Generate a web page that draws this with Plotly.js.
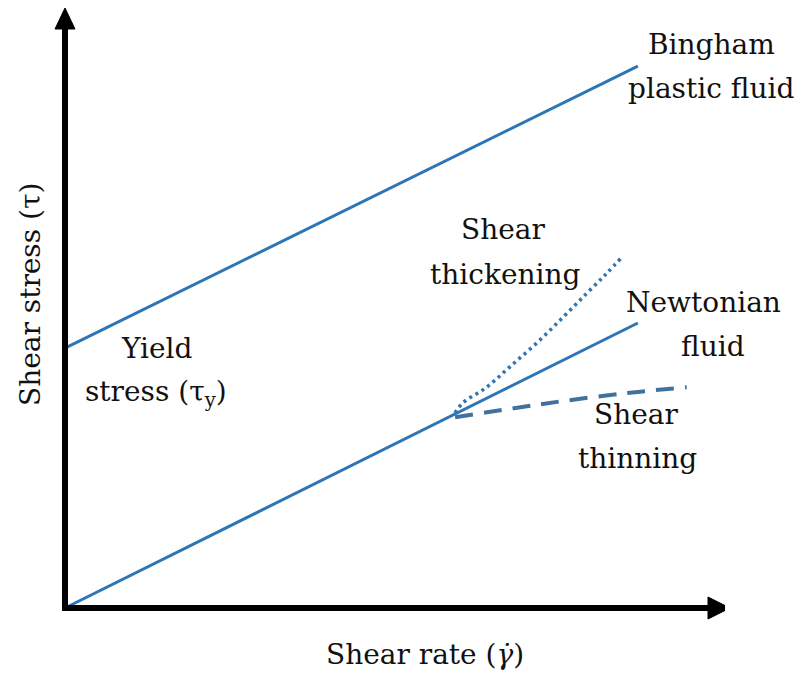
<!DOCTYPE html>
<html>
<head>
<meta charset="utf-8">
<script src="https://cdn.plot.ly/plotly-3.0.1.min.js"></script>
<style>html,body{margin:0;padding:0;background:#fff;}#chart{width:803px;height:678px;}</style>
</head>
<body>
<div id="chart"></div>
<script>
// Conceptual flow curves (shear rate vs shear stress, arbitrary units)
var binghamRate = [0, 8.68];
var binghamStress = [4.33, 9.03];
var newtonRate = [0, 8.68];
var newtonStress = [0, 4.75];
var thickRate = [5.91, 6.03, 6.39, 6.74, 7.15, 7.55, 7.91, 8.21, 8.44];
var thickStress = [3.25, 3.42, 3.68, 4.02, 4.42, 4.85, 5.25, 5.58, 5.85];
var thinRate = [5.91, 6.8, 7.55, 8.5, 9.42];
var thinStress = [3.18, 3.33, 3.45, 3.58, 3.68];

var FONT = 'DejaVu Serif';
var FS = 28;
var ML = 32, MB = 40, PW = 693, PH = 630, H = 678;
// pixel -> data helpers (origin at px 65,608; 66 px/unit in x, 60 px/unit in y)
function dx(px){return (px-65)/66;}
function dy(py){return (608-py)/60;}
// pixel -> paper helpers
function ppx(px){return (px-ML)/PW;}
function ppy(py){return (H-MB-py)/PH;}

var traces = [
  {x: binghamRate, y: binghamStress, mode:'lines', line:{color:'#2e75b6', width:3}, hoverinfo:'skip'},
  {x: newtonRate, y: newtonStress, mode:'lines', line:{color:'#2e75b6', width:3}, hoverinfo:'skip'},
  {x: thickRate, y: thickStress, mode:'lines', line:{color:'#2e75b6', width:3.6, dash:'3px,4px', shape:'spline'}, hoverinfo:'skip'},
  {x: thinRate, y: thinStress, mode:'lines', line:{color:'#41719c', width:4, dash:'18px,11px', shape:'spline'}, hoverinfo:'skip'}
];

var labels = [
  {t:'Bingham', px:711, py:44},
  {t:'plastic fluid', px:711, py:88},
  {t:'Yield', px:156, py:348},
  {t:'stress (τ<sub>y</sub>)', px:156, py:393},
  {t:'Shear', px:503, py:230},
  {t:'thickening', px:505, py:274},
  {t:'Newtonian', px:703, py:302},
  {t:'fluid', px:713, py:346},
  {t:'Shear', px:636, py:415},
  {t:'thinning', px:637, py:458},
  {t:'Shear rate (<i>γ̇</i>)', px:425, py:655}
];
var annotations = labels.map(function(l){
  return {text:l.t, x:ppx(l.px), y:ppy(l.py), xref:'paper', yref:'paper', showarrow:false,
          xanchor:'center', yanchor:'middle', font:{family:FONT, size:FS, color:'#111'}};
});
annotations.push({text:'Shear stress (τ)', x:ppx(30), y:ppy(295), xref:'paper', yref:'paper', showarrow:false,
  textangle:-90, xanchor:'center', yanchor:'middle', font:{family:FONT, size:FS, color:'#111'}});

var shapes = [
  {type:'line', x0:0, y0:dy(611), x1:0, y1:dy(28), line:{color:'#000', width:6}, layer:'above'},
  {type:'line', x0:dx(62), y0:0, x1:dx(709), y1:0, line:{color:'#000', width:6}, layer:'above'},
  {type:'path', path:'M '+dx(55)+' '+dy(29)+' L '+dx(65)+' '+dy(8)+' L '+dx(75)+' '+dy(29)+' Z',
   fillcolor:'#000', line:{color:'#000', width:1}, layer:'above'},
  {type:'path', path:'M '+dx(708)+' '+dy(597)+' L '+dx(730)+' '+dy(608)+' L '+dx(708)+' '+dy(619)+' Z',
   fillcolor:'#000', line:{color:'#000', width:1}, layer:'above'}
];

var layout = {
  width:803, height:678,
  margin:{l:ML, r:78, t:8, b:MB},
  paper_bgcolor:'#fff', plot_bgcolor:'#fff',
  showlegend:false,
  xaxis:{range:[-0.5,10], visible:false, fixedrange:true},
  yaxis:{range:[-0.5,10], visible:false, fixedrange:true},
  annotations:annotations,
  shapes:shapes
};
Plotly.newPlot('chart', traces, layout, {displayModeBar:false, staticPlot:true});
</script>
</body>
</html>
